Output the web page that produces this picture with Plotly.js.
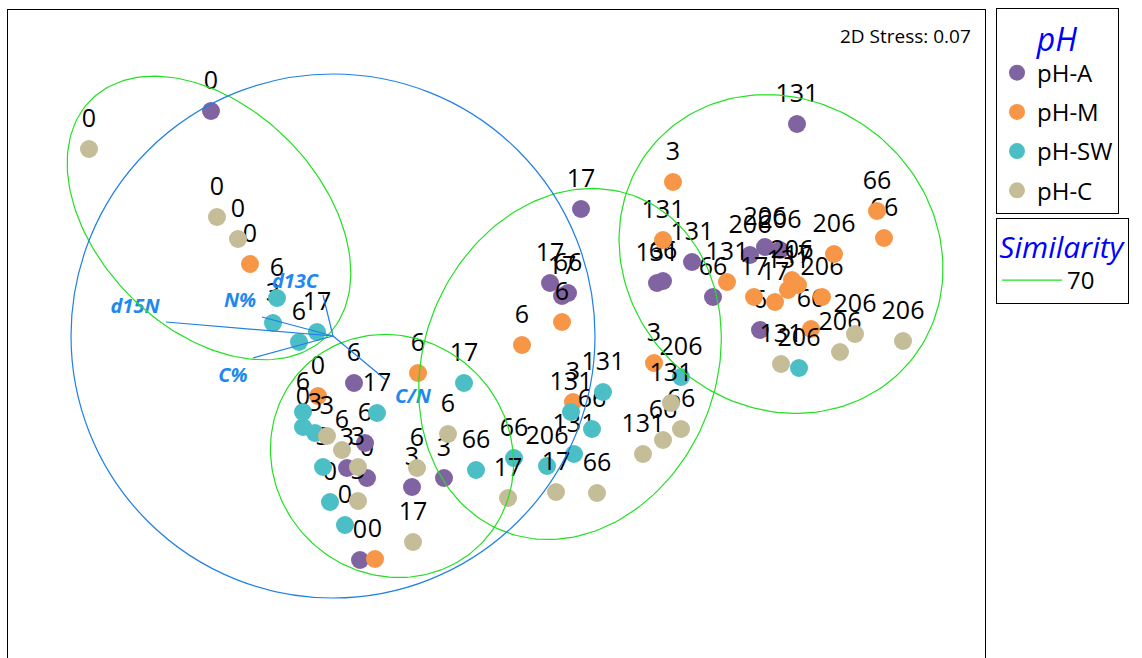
<!DOCTYPE html>
<html><head><meta charset="utf-8">
<script src="https://cdn.plot.ly/plotly-3.0.1.min.js"></script>
<style>html,body{margin:0;padding:0;overflow:hidden;background:#fff}</style>
</head><body><div id="chart" style="width:1142px;height:700px"></div>
<script>
// NMDS ordination coordinates (screen-oriented units, y grows downward)
const groups = ['pH-A','pH-M','pH-SW','pH-C'];
const colors = ['#8064A2','#F79646','#4BBFC5','#C4BD97'];

const aX = [211,581,550,562,568,657,663,692,713,797,750,765,780,760,354,365,347,367,412,444,360];
const aY = [111,209,283,296,293,283,281,262,297,124,255,247,250,330,383,443,468,478,487,478,560];
const aLab = ['0','17','17','17','66','131','66','131','66','131','206','206','206','6','6','6','3','0','3','3','0'];

const mX = [250,318,375,673,654,573,418,522,562,754,775,798,877,884,811,663,727,788,834,792,822];
const mY = [264,396,559,182,363,402,373,345,322,297,302,285,211,238,329,240,282,290,254,280,297];
const mLab = ['0','0','0','3','3','3','6','6','6','17','17','17','66','66','66','131','131','131','206','206','206'];

const swX = [303,330,345,273,315,323,277,299,303,317,377,464,476,514,592,603,571,574,547,681,799];
const swY = [427,502,525,323,433,467,298,342,412,332,413,383,470,458,429,392,412,454,466,377,368];
const swLab = ['0','0','0','3','3','3','6','6','6','17','17','17','66','66','66','131','131','131','206','206','206'];

const cX = [89,217,238,327,358,358,342,417,448,413,508,556,597,681,663,643,671,781,840,855,903];
const cY = [149,217,239,436,467,501,450,468,434,542,498,492,493,429,440,454,403,364,352,334,341];
const cLab = ['0','0','0','3','3','3','6','6','6','17','17','17','66','66','66','131','131','131','206','206','206'];

// environmental vectors
const vecNames = ['d15N','N%','d13C','C%','C/N'];
const vecOrigin = [333,336];
const vecEndX = [166,262,323,253,386];
const vecEndY = [322,317,295,358,380];
const vecLabX = [135,240,295,233,413];
const vecLabY = [308,302,283,377,398];
const vecCircleR = 262;

// similarity 70 contours: [cx, cy, semi-major, semi-minor, angle deg]
const simCx = [209,392,570,781];
const simCy = [218,456,364,254];
const simA = [167,125,180,168];
const simB = [111,118,146,153];
const simAng = [45,45,-67.8,40];

const seriesX = [aX,mX,swX,cX], seriesY=[aY,mY,swY,cY], seriesL=[aLab,mLab,swLab,cLab];

const traces = [];
groups.forEach((g,i)=>{
  // sample labels (carried by transparent markers so the label sits above the dot)
  traces.push({
    type:'scatter', mode:'markers+text', x:seriesX[i], y:seriesY[i], text:seriesL[i],
    textposition:'top center', showlegend:false, hoverinfo:'skip', cliponaxis:false,
    textfont:{family:'Open Sans', size:25, color:'#000'},
    marker:{size:24, color:'rgba(0,0,0,0)', line:{width:0}}
  });
  traces.push({
    type:'scatter', mode:'markers', name:g, legendgroup:g, legend:'legend',
    x:seriesX[i], y:seriesY[i], hoverinfo:'skip', cliponaxis:false,
    marker:{size:18, color:colors[i], line:{width:0}}
  });
});

traces.push({
  type:'scatter', mode:'text', x:vecLabX, y:vecLabY, text:vecNames, showlegend:false,
  textfont:{family:'Open Sans', size:20, color:'#1E88F0', weight:'bold', style:'italic'},
  hoverinfo:'skip'
});

function ellipsePts(cx,cy,a,b,deg){
  const th=deg*Math.PI/180; const xs=[], ys=[];
  for(let i=0;i<=180;i++){
    const t=2*Math.PI*i/180;
    xs.push(cx+a*Math.cos(t)*Math.cos(th)-b*Math.sin(t)*Math.sin(th));
    ys.push(cy+a*Math.cos(t)*Math.sin(th)+b*Math.sin(t)*Math.cos(th));
  }
  return [xs,ys];
}
simCx.forEach((cx,i)=>{
  const [xs,ys]=ellipsePts(cx,simCy[i],simA[i],simB[i],simAng[i]);
  traces.push({type:'scatter', mode:'lines', x:xs, y:ys, name:'70', legend:'legend2',
    legendgroup:'sim', showlegend:i===0, hoverinfo:'skip', cliponaxis:false,
    line:{color:'#22E022', width:1.2}});
});

const shapes = [];
shapes.push({type:'circle', xref:'x', yref:'y',
  x0:vecOrigin[0]-vecCircleR, x1:vecOrigin[0]+vecCircleR,
  y0:vecOrigin[1]-vecCircleR, y1:vecOrigin[1]+vecCircleR,
  line:{color:'#1E7FE6', width:1.2}});
vecEndX.forEach((ex,i)=>{
  shapes.push({type:'line', xref:'x', yref:'y', x0:vecOrigin[0], y0:vecOrigin[1], x1:ex, y1:vecEndY[i],
    line:{color:'#1E7FE6', width:1.2}});
});

const W=1142, H=700, mL=8, mR=157, mT=10, mB=30;
const plotW=W-mL-mR, plotH=H-mT-mB;
const px=(p)=>(p-mL)/plotW, py=(p)=>(H-mB-p)/plotH;

const axisBase = {showgrid:false, zeroline:false, showticklabels:false, ticks:'',
  showline:true, mirror:true, linecolor:'#000', linewidth:1, fixedrange:true};

const layout = {
  width:W, height:H, margin:{l:mL,r:mR,t:mT,b:mB},
  paper_bgcolor:'#fff', plot_bgcolor:'#fff',
  xaxis:Object.assign({range:[mL, W-mR]}, axisBase),
  yaxis:Object.assign({range:[H-mB, mT]}, axisBase),
  shapes:shapes,
  showlegend:true,
  legend:{x:px(996), y:py(8), xanchor:'left', yanchor:'top',
    bordercolor:'#000', borderwidth:1, bgcolor:'#fff',
    font:{family:'Open Sans', size:24, color:'#000'},
    title:{text:'pH', side:'top center', font:{family:'Open Sans', size:32, color:'#0000FF', style:'italic'}},
    itemsizing:'trace', tracegroupgap:5},
  legend2:{x:px(996), y:py(218), xanchor:'left', yanchor:'top',
    bordercolor:'#000', borderwidth:1, bgcolor:'#fff', itemwidth:60,
    font:{family:'Open Sans', size:24, color:'#000'},
    title:{text:'Similarity', side:'top center', font:{family:'Open Sans', size:30, color:'#0000FF', style:'italic'}}},
  annotations:[{xref:'paper', yref:'paper', x:px(973), y:py(36), xanchor:'right', yanchor:'middle',
    text:'2D Stress: 0.07', showarrow:false, font:{family:'Open Sans', size:19, color:'#000'}}],
  hovermode:false
};

Plotly.newPlot('chart', traces, layout, {displayModeBar:false, staticPlot:true});
</script></body></html>
